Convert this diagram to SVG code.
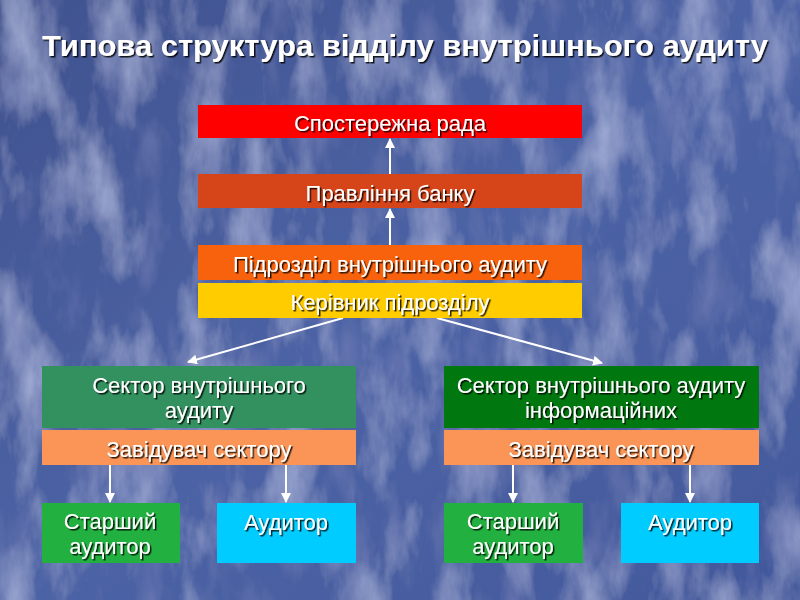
<svg xmlns="http://www.w3.org/2000/svg" width="800" height="600" viewBox="0 0 800 600">
<defs>
<linearGradient id="bg" x1="0" y1="0" x2="1" y2="1">
<stop offset="0" stop-color="#40528f"/>
<stop offset="0.5" stop-color="#4c63a5"/>
<stop offset="1" stop-color="#42589b"/>
</linearGradient>
<filter id="marble" x="0" y="0" width="100%" height="100%">
<feTurbulence type="fractalNoise" baseFrequency="0.022 0.009" numOctaves="5" seed="7" result="n"/>
<feColorMatrix in="n" type="matrix" values="0 0 0 0 0.55  0 0 0 0 0.62  0 0 0 0 0.88  0 0 1.3 0 -0.6" result="c"/>
<feTurbulence type="fractalNoise" baseFrequency="0.03 0.012" numOctaves="4" seed="21" result="n2"/>
<feColorMatrix in="n2" type="matrix" values="0 0 0 0 0.18  0 0 0 0 0.22  0 0 0 0 0.48  0 0 -1.4 0 0.7" result="d"/>
<feComposite in="c" in2="SourceGraphic" operator="over" result="a"/>
<feComposite in="d" in2="a" operator="over"/>
</filter>
<filter id="sh" x="-5%" y="-20%" width="110%" height="150%">
<feDropShadow dx="1.5" dy="1.5" stdDeviation="0.6" flood-color="#000" flood-opacity="0.85"/>
</filter>
<marker id="ah" viewBox="0 0 10 10" refX="9" refY="5" markerWidth="10" markerHeight="10" markerUnits="userSpaceOnUse" orient="auto">
<path d="M0,0 L10,5 L0,10 z" fill="#fff"/>
</marker>
<style>
.t{font-family:"Liberation Sans",Arial,sans-serif;fill:#fff;text-anchor:middle;filter:url(#sh)}
.n{font-size:22px}
.title{font-size:30px;font-weight:bold}
.c{stroke:#fff;stroke-width:2;fill:none;marker-end:url(#ah)}
</style>
</defs>
<rect width="800" height="600" fill="url(#bg)" filter="url(#marble)"/>
<text class="t title" x="405" y="56" textLength="726" lengthAdjust="spacingAndGlyphs">Типова структура відділу внутрішнього аудиту</text>

<g id="connectors">
<line class="c" x1="390" y1="174" x2="390" y2="139"/>
<line class="c" x1="390" y1="245" x2="390" y2="209"/>
<line class="c" x1="343" y1="318" x2="188" y2="362"/>
<line class="c" x1="437" y1="318" x2="602" y2="363"/>
<line class="c" x1="110" y1="465" x2="110" y2="502"/>
<line class="c" x1="286" y1="465" x2="286" y2="502"/>
<line class="c" x1="513" y1="465" x2="513" y2="502"/>
<line class="c" x1="690" y1="465" x2="690" y2="502"/>
</g>

<g id="n-rada">
<rect x="198" y="105" width="384" height="33" fill="#ff0000"/>
<text class="t n" x="390" y="131">Спостережна рада</text>
</g>
<g id="n-pravlinnya">
<rect x="198" y="174" width="384" height="34" fill="#d6441a"/>
<text class="t n" x="390" y="201">Правління  банку</text>
</g>
<g id="n-pidrozdil">
<rect x="198" y="245" width="384" height="35" fill="#f8620c"/>
<text class="t n" x="390" y="272">Підрозділ внутрішнього аудиту</text>
</g>
<g id="n-kerivnyk">
<rect x="198" y="283" width="384" height="35" fill="#ffcc00"/>
<text class="t n" x="390" y="310">Керівник підрозділу</text>
</g>

<g id="n-sector1">
<rect x="42" y="366" width="314" height="62" fill="#32915f"/>
<text class="t n" x="199" y="393">Сектор внутрішнього</text>
<text class="t n" x="199" y="418">аудиту</text>
</g>
<g id="n-zav1">
<rect x="42" y="430" width="314" height="35" fill="#fa9557"/>
<text class="t n" x="199" y="457">Завідувач сектору</text>
</g>
<g id="n-starshyi1">
<rect x="42" y="503" width="138" height="60" fill="#22b140"/>
<text class="t n" x="110" y="529">Старший</text>
<text class="t n" x="110" y="554">аудитор</text>
</g>
<g id="n-audytor1">
<rect x="217" y="503" width="139" height="60" fill="#00ccff"/>
<text class="t n" x="286" y="530">Аудитор</text>
</g>

<g id="n-sector2">
<rect x="444" y="366" width="315" height="62" fill="#00780f"/>
<text class="t n" x="601" y="393">Сектор внутрішнього аудиту</text>
<text class="t n" x="601" y="418">інформаційних</text>
</g>
<g id="n-zav2">
<rect x="444" y="430" width="315" height="35" fill="#fa9557"/>
<text class="t n" x="601" y="457">Завідувач сектору</text>
</g>
<g id="n-starshyi2">
<rect x="444" y="503" width="139" height="60" fill="#22b140"/>
<text class="t n" x="513" y="529">Старший</text>
<text class="t n" x="513" y="554">аудитор</text>
</g>
<g id="n-audytor2">
<rect x="621" y="503" width="138" height="60" fill="#00ccff"/>
<text class="t n" x="690" y="530">Аудитор</text>
</g>
</svg>
